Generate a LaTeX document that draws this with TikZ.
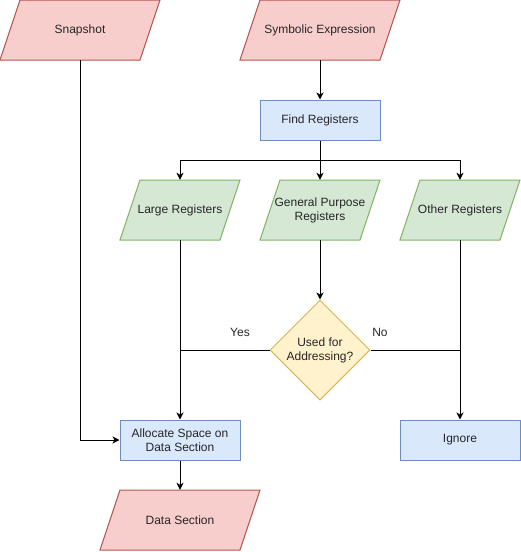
\documentclass[tikz,border=0pt]{standalone}
\usepackage{fontspec}
\setmainfont{Liberation Sans}
\usetikzlibrary{shapes.geometric,arrows.meta}
\definecolor{redfill}{HTML}{F8CECC}
\definecolor{redline}{HTML}{B85450}
\definecolor{bluefill}{HTML}{DAE8FC}
\definecolor{blueline}{HTML}{6C8EBF}
\definecolor{greenfill}{HTML}{D5E8D4}
\definecolor{greenline}{HTML}{82B366}
\definecolor{yelfill}{HTML}{FFF2CC}
\definecolor{yelline}{HTML}{D6B656}
\begin{document}
\begin{tikzpicture}[x=1pt,y=-1pt,
  every node/.style={font=\fontsize{12}{14}\selectfont, text=black!85, align=center, inner sep=0pt},
  para/.style={minimum height=60pt},
  procbox/.style={draw, line width=1pt, minimum width=120pt, minimum height=40pt, fill=bluefill, draw=blueline},
  decbox/.style={diamond, draw=yelline, fill=yelfill, line width=1pt, minimum width=100pt, minimum height=100pt, aspect=1},
  conn/.style={line width=1pt, -{Stealth[length=7pt,width=7pt,inset=2pt]}},
  plain/.style={line width=1pt}
]
\useasboundingbox (0,0) rectangle (521,552);
% parallelogram shapes
\newcommand{\mypara}[6]{% x1 y1 x2 y2 fill line
  \filldraw[fill=#5, draw=#6, line width=1pt] (#1+20,#2) -- (#3,#2) -- (#3-20,#4) -- (#1,#4) -- cycle;}
\mypara{0}{0}{160}{60}{redfill}{redline}
\mypara{240}{0}{400}{60}{redfill}{redline}
\mypara{120}{180}{240}{240}{greenfill}{greenline}
\mypara{260}{180}{380}{240}{greenfill}{greenline}
\mypara{400}{180}{520}{240}{greenfill}{greenline}
\mypara{100}{490}{260}{550}{redfill}{redline}

\node[para, minimum width=160pt] (snap) at (80,30) {Snapshot};
\node[para, minimum width=160pt] (sym) at (320,30) {Symbolic Expression};
\node[procbox] (find) at (320,120) {Find Registers};
\node[para, minimum width=120pt] (large) at (180,210) {Large Registers};
\node[para, minimum width=120pt] (gp) at (320,210) {General Purpose\\Registers};
\node[para, minimum width=120pt] (other) at (460,210) {Other Registers};
\node[decbox, label={[align=center]center:Used for\\Addressing?}] (dec) at (320,350) {};
\node[procbox] (alloc) at (180,440) {Allocate Space on\\Data Section};
\node[procbox] (ign) at (460,440) {Ignore};
\node[para, minimum width=160pt] (data) at (180,520) {Data Section};
\node (yes) at (240,332) {Yes};
\node (no) at (380,332) {No};

\coordinate (split) at (320,160);
\coordinate (yj) at (180,350);
\coordinate (nj) at (460,350);

\draw[conn] (snap.south) |- (alloc.west);
\draw[conn] (sym.south) -- (find.north);
\draw[plain] (find.south) -- (split);
\draw[conn] (split) -| (large.north);
\draw[conn] (split) -| (other.north);
\draw[conn] (split) -- (gp.north);
\draw[conn] (gp.south) -- (dec.north);
\draw[conn] (large.south) -- (alloc.north);
\draw[conn] (other.south) -- (ign.north);
\draw[plain] (dec.west) -- (yj);
\draw[plain] (dec.east) -- (nj);
\draw[conn] (alloc.south) -- (data.north);
\end{tikzpicture}
\end{document}
